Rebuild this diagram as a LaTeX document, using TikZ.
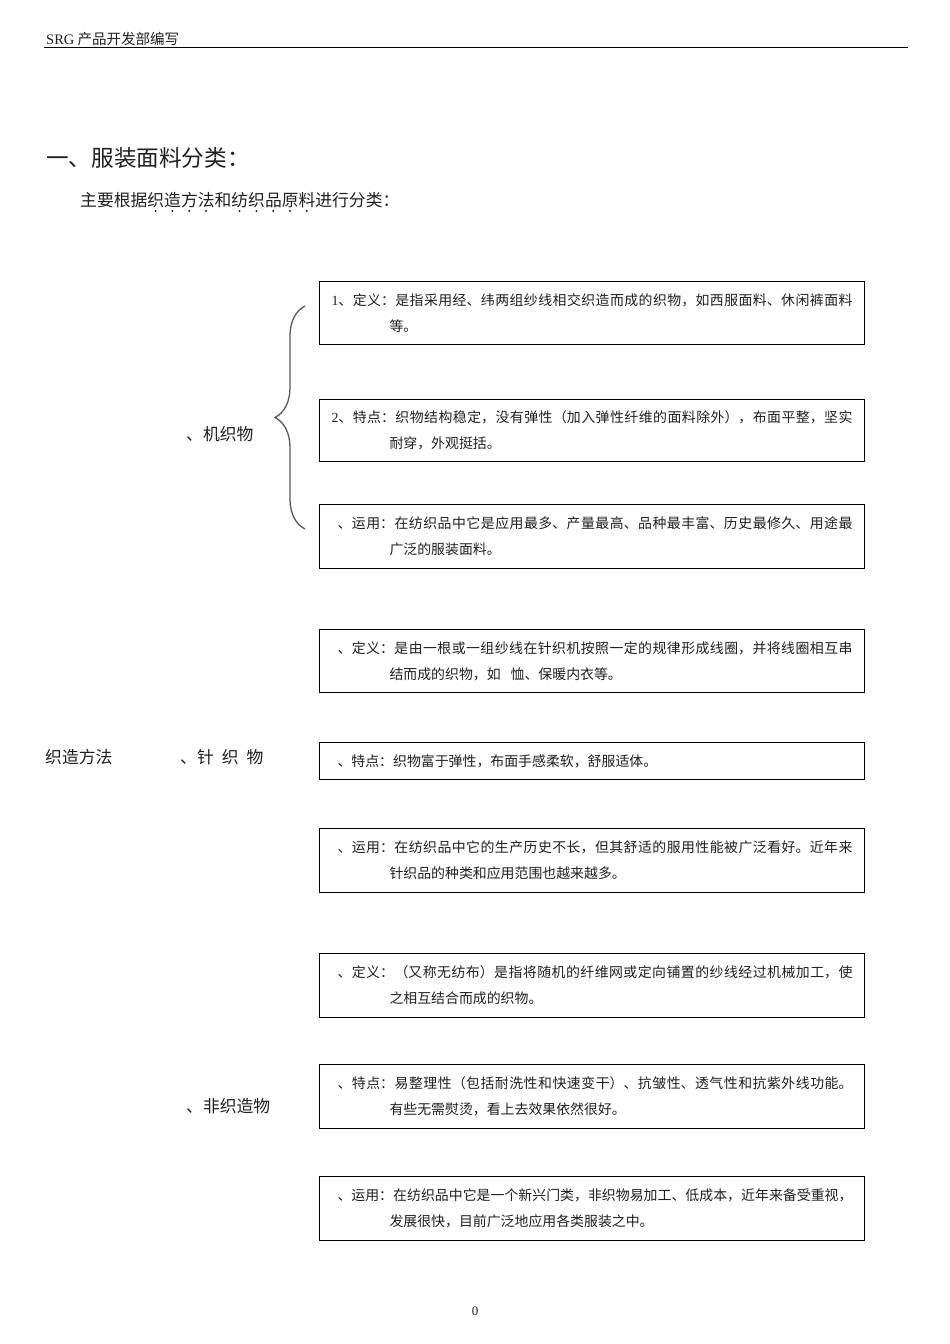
\documentclass[tikz,border=0pt]{standalone}
\usepackage{fontspec}
\setmainfont{Noto Sans CJK SC}
\newfontfamily\latinfont{Liberation Serif}
\XeTeXlinebreaklocale "zh"
\XeTeXlinebreakskip=0pt plus 2pt
\usetikzlibrary{decorations.pathreplacing}

\begin{document}
\begin{tikzpicture}[x=1pt, y=-1pt]

  % ---- sizing knobs ----
  \pgfmathsetmacro{\FLboxl}{319}   % left edge of the right-hand boxes
  \pgfmathsetmacro{\FLboxr}{864}   % right edge of the right-hand boxes
  \pgfmathsetmacro{\FLpad}{12}     % inner padding of the boxes
  \pgfmathsetmacro{\FLindent}{58}  % indent of the second line in a box
  \pgfmathsetmacro{\FLem}{16.8}    % character pitch of the subtitle

  % ---- derived geometry ----
  \pgfmathsetmacro{\FLtextw}{\FLboxr - \FLboxl - 2*\FLpad}

  \definecolor{FLText}{gray}{0.12}
  \definecolor{FLBrace}{gray}{0.35}

  \useasboundingbox (0,0) rectangle (950,1344);

  \tikzset{
    desc/.style={draw=black, line width=1pt, anchor=north west,
      text width=\FLtextw pt, inner xsep=\FLpad pt, inner ysep=0pt,
      align=justify, text=FLText, font=\fontsize{13.9}{26}\selectfont},
    side/.style={anchor=west, inner sep=0pt, text=FLText,
      font=\fontsize{16.8}{20}\selectfont},
  }

  % ---- page header ----
  \node[anchor=base west, inner sep=0pt, text=FLText, font=\fontsize{14.5}{16}\selectfont]
    (hdr) at (46,44.5) {{\latinfont SRG} 产品开发部编写};
  \draw[line width=1.5pt] (44,47.5) -- (908,47.5);

  % ---- title ----
  \node[anchor=west, inner sep=0pt, text=FLText, font=\fontsize{22.6}{24}\selectfont]
    (title) at (46,158) {一、服装面料分类：};
  \node[side] (sub) at (80,200) {主要根据织造方法和纺织品原料进行分类：};
  \foreach \i in {4,5,6,7,9,10,11,12,13}
    \fill[FLText] ({80+\FLem*\i+0.5*\FLem},211) circle (1.1pt);

  % ---- left labels ----
  \node[side] (method) at (45,757) {织造方法};
  \node[side] (woven) at (186,434) {、机织物};
  \node[side] (knit) at (180,757) {、针\hspace{8pt}织\hspace{8pt}物};
  \node[side] (nonwoven) at (186,1106) {、非织造物};

  % ---- brace ----
  \coordinate (bracetop) at (305,306);
  \coordinate (bracebot) at (305,529);
  \draw[FLBrace, line width=1.3pt, decorate, decoration={brace, amplitude=30pt}]
    (bracebot) -- (bracetop);

  % ---- boxes: woven ----
  \node[desc, minimum height=63pt] (wovdef) at (\FLboxl,281) {%
    {\latinfont 1}、定义：是指采用经、纬两组纱线相交织造而成的织物，如西服面料、休闲裤面料\linebreak
    \hspace*{\FLindent pt}等。};
  \node[desc, minimum height=62pt] (wovfeat) at (\FLboxl,399) {%
    {\latinfont 2}、特点：织物结构稳定，没有弹性（加入弹性纤维的面料除外），布面平整，坚实\linebreak
    \hspace*{\FLindent pt}耐穿，外观挺括。};
  \node[desc, minimum height=64pt] (wovuse) at (\FLboxl,504) {%
    \hspace*{6pt}、运用：在纺织品中它是应用最多、产量最高、品种最丰富、历史最修久、用途最\linebreak
    \hspace*{\FLindent pt}广泛的服装面料。};

  % ---- boxes: knitted ----
  \node[desc, minimum height=63pt] (knitdef) at (\FLboxl,629) {%
    \hspace*{6pt}、定义：是由一根或一组纱线在针织机按照一定的规律形成线圈，并将线圈相互串\linebreak
    \hspace*{\FLindent pt}结而成的织物，如\hspace*{10pt}恤、保暖内衣等。};
  \node[desc, minimum height=37pt] (knitfeat) at (\FLboxl,742) {%
    \hspace*{6pt}、特点：织物富于弹性，布面手感柔软，舒服适体。};
  \node[desc, minimum height=64pt] (knituse) at (\FLboxl,828) {%
    \hspace*{6pt}、运用：在纺织品中它的生产历史不长，但其舒适的服用性能被广泛看好。近年来\linebreak
    \hspace*{\FLindent pt}针织品的种类和应用范围也越来越多。};

  % ---- boxes: nonwoven ----
  \node[desc, minimum height=64pt] (nwdef) at (\FLboxl,953) {%
    \hspace*{6pt}、定义：（又称无纺布）是指将随机的纤维网或定向铺置的纱线经过机械加工，使\linebreak
    \hspace*{\FLindent pt}之相互结合而成的织物。};
  \node[desc, minimum height=64pt] (nwfeat) at (\FLboxl,1064) {%
    \hspace*{6pt}、特点：易整理性（包括耐洗性和快速变干）、抗皱性、透气性和抗紫外线功能。\linebreak
    \hspace*{\FLindent pt}有些无需熨烫，看上去效果依然很好。};
  \node[desc, minimum height=64pt] (nwuse) at (\FLboxl,1176) {%
    \hspace*{6pt}、运用：在纺织品中它是一个新兴门类，非织物易加工、低成本，近年来备受重视，\linebreak
    \hspace*{\FLindent pt}发展很快，目前广泛地应用各类服装之中。};

  % ---- page number ----
  \node[inner sep=0pt, text=FLText, font=\fontsize{13}{15}\selectfont\latinfont]
    (pgnum) at (475,1311) {0};

\end{tikzpicture}
\end{document}
